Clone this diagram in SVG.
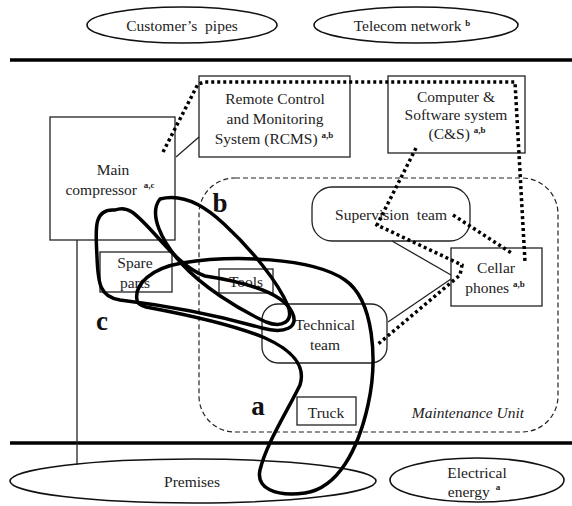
<svg xmlns="http://www.w3.org/2000/svg" width="572" height="506" viewBox="0 0 572 506">
<style>
text{font-family:"Liberation Serif","Times New Roman",serif;font-size:15.5px;fill:#222;text-anchor:middle}
.sup{font-size:9px;font-weight:bold}
.lbl{font-size:27px;font-weight:bold;fill:#111}
.it{font-style:italic}
.box{fill:none;stroke:#222;stroke-width:1.3}
.ell{fill:none;stroke:#111;stroke-width:1.6}
.thick{stroke:#000;stroke-width:3.5}
.thin{stroke:#222;stroke-width:1.3;fill:none}
.dot{fill:none;stroke:#000;stroke-width:3.5;stroke-dasharray:3 3}
.loop{fill:none;stroke:#000;stroke-width:3.5;stroke-linejoin:round}
</style>
<rect width="572" height="506" fill="#fff"/>
<line class="thick" x1="10" y1="60" x2="572" y2="60"/>
<line class="thick" x1="10" y1="443" x2="572" y2="443"/>
<g id="customers-pipes"><ellipse class="ell" cx="182" cy="25" rx="95" ry="18"/><text x="182" y="31">Customer’s&#160; pipes</text></g>
<g id="telecom-network"><ellipse class="ell" cx="416" cy="25" rx="102" ry="18"/><text x="412" y="31">Telecom network <tspan class="sup" dy="-5">b</tspan></text></g>
<g id="maintenance-unit"><rect x="199" y="178" width="359" height="254" rx="36" fill="none" stroke="#222" stroke-width="1.2" stroke-dasharray="5 3"/><text class="it" x="468" y="418">Maintenance Unit</text></g>
<g id="main-compressor"><rect class="box" x="50" y="117" width="125" height="123"/><text x="113" y="175">Main</text><text x="110" y="195">compressor <tspan class="sup" dx="3" dy="-7">a,c</tspan></text></g>
<g id="rcms"><rect class="box" x="199" y="76" width="151" height="81"/><text x="275" y="104">Remote Control</text><text x="275" y="124">and Monitoring</text><text x="274" y="144">System (RCMS) <tspan class="sup" dy="-6">a,b</tspan></text></g>
<g id="cs"><rect class="box" x="388" y="76" width="137" height="77"/><text x="456" y="102">Computer &amp;</text><text x="456" y="120">Software system</text><text x="457" y="139">(C&amp;S) <tspan class="sup" dy="-6">a,b</tspan></text></g>
<g id="supervision-team"><rect class="box" x="312" y="187" width="158" height="54" rx="20"/><text x="391" y="220">Supervision&#160; team</text></g>
<g id="cellar-phones"><rect class="box" x="451" y="248" width="91" height="58"/><text x="496" y="273">Cellar</text><text x="495" y="293">phones <tspan class="sup" dy="-6">a,b</tspan></text></g>
<g id="technical-team"><rect class="box" x="262" y="304" width="125" height="59" rx="16"/><text x="325" y="330">Technical</text><text x="325" y="350">team</text></g>
<g id="spare-parts"><rect class="box" x="100" y="252" width="72" height="40"/><text x="135" y="268">Spare</text><text x="135" y="288">parts</text></g>
<g id="tools"><rect class="box" x="219" y="269" width="54" height="24"/><text x="246" y="287">Tools</text></g>
<g id="truck"><rect class="box" x="297" y="397" width="59" height="28"/><text x="326" y="418">Truck</text></g>
<g id="premises"><ellipse class="ell" cx="193" cy="481" rx="183" ry="22"/><text x="192" y="487">Premises</text></g>
<g id="electrical-energy"><ellipse class="ell" cx="477" cy="480" rx="87" ry="22"/><text x="477" y="478">Electrical</text><text x="474" y="497">energy <tspan class="sup" dx="2" dy="-7">a</tspan></text></g>
<g id="connectors">
<line class="thin" x1="77" y1="240" x2="77" y2="465"/>
<line class="thin" x1="176" y1="157" x2="199" y2="137"/>
<line class="thin" x1="392" y1="241" x2="451" y2="275"/>
<line class="thin" x1="388" y1="322" x2="451" y2="279"/>
<path class="dot" d="M163,152 L198,84 L205,82 L515,82 L525,262"/>
<path class="dot" d="M416,148 L377,225 L462,265 L460,275 L377,345"/>
<path class="dot" d="M453,215 L513,254"/>
</g>
<g id="loops">
<path class="loop" d="M115,210 C92,208 96,232 97,257 C98,284 100,297 120,300 C170,306 220,316 262,328 C284,334 300,328 292,312 C282,292 245,282 205,276 C176,266 152,226 132,212 C126,208 120,208 115,210 Z"/>
<path class="loop" d="M160,199 C182,193 204,205 224,224 C252,250 278,282 288,306 C294,322 282,328 266,322 C236,308 202,286 182,264 C162,242 148,214 160,199 Z"/>
<path class="loop" d="M137,300 C134,284 152,268 182,263 C232,255 312,257 345,280 C374,300 378,360 368,405 C358,450 338,488 305,493 C275,497 256,488 260,470 C266,444 288,410 300,385 C306,366 292,350 265,338 C232,324 178,313 146,307 C139,305 137,303 137,300 Z"/>
</g>
<text class="lbl" x="220" y="212">b</text>
<text class="lbl" x="102" y="330">c</text>
<text class="lbl" x="258" y="415">a</text>
</svg>
